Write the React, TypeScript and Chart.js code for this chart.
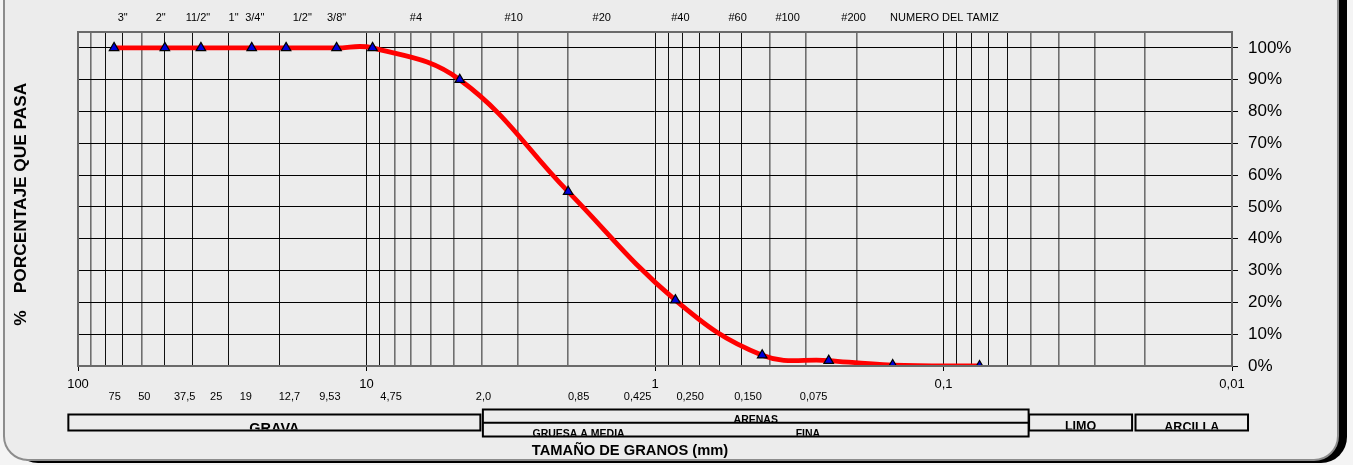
import React, { useEffect, useRef } from "react";
import { Chart, registerables } from "chart.js";

Chart.register(...registerables);

// ---- Data ----
const sieveSizesMm = [75, 50, 37.5, 25, 19, 12.7, 9.53, 4.75, 2.0, 0.85, 0.425, 0.25, 0.15, 0.075];
const percentPassing = [100, 100, 100, 100, 100, 100, 100, 90, 54.8, 20.7, 3.4, 1.7, 0.3, 0.0];

const majorTickLabels: Record<string, string> = { "100": "100", "10": "10", "1": "1", "0.1": "0,1", "0.01": "0,01" };
const yTickValues = [0, 10, 20, 30, 40, 50, 60, 70, 80, 90, 100];
// grid lines that render lighter/wider in the reference
const lightGridValues = [90, 60, 8, 7, 6, 5, 4, 3, 2, 0.4, 0.3, 0.2, 0.05, 0.04, 0.03, 0.02];

// sieve names drawn above the plot (anchor on the x axis, in mm)
const sieveNames = ['3"', '2"', '11/2"', '1"', '3/4"', '1/2"', '3/8"', "#4", "#10", "#20", "#40", "#60", "#100", "#200", "NUMERO DEL TAMIZ"];
const sieveNameAnchors = [70, 51.7, 38.4, 28.9, 24.4, 16.7, 12.7, 6.74, 3.09, 1.53, 0.817, 0.517, 0.347, 0.205, 0.0993];

// sieve openings drawn under the axis
const openingLabels = ["75", "50", "37,5", "25", "19", "12,7", "9,53", "4,75", "2,0", "0,85", "0,425", "0,250", "0,150", "0,075"];
const openingAnchors = [74.6, 58.9, 42.7, 33.2, 26.2, 18.5, 13.4, 8.22, 3.93, 1.84, 1.149, 0.755, 0.476, 0.282];

// soil classification bands (from, to in mm)
const bandNames = ["GRAVA", "ARENAS", "LIMO", "ARCILLA"];
const bandFrom = [108, 3.95, 0.0505, 0.0216];
const bandTo = [4.03, 0.0507, 0.0222, 0.0088];
const sandSubNames = ["GRUESA A MEDIA", "FINA"];
const sandSubAnchors = [1.84, 0.295];

const FONT = '"Liberation Sans", Arial, Helvetica, sans-serif';
const W = 1353;
const H = 465;

function gridValues(): number[] {
  const out: number[] = [];
  for (let e = 1; e >= -2; e--) {
    for (let m = 9; m >= 1; m--) {
      out.push(Number((m * Math.pow(10, e)).toPrecision(6)));
    }
  }
  out.unshift(100);
  return out.filter((v) => v >= 0.01 && v <= 100);
}

function isMajor(v: number): boolean {
  return majorTickLabels[String(v)] !== undefined;
}
function isLight(v: number): boolean {
  return lightGridValues.some((g) => Math.abs(g - v) < 1e-9);
}

function roundRectPath(ctx: CanvasRenderingContext2D, x: number, y: number, w: number, h: number, r: number) {
  ctx.beginPath();
  ctx.moveTo(x + r, y);
  ctx.lineTo(x + w - r, y);
  ctx.arcTo(x + w, y, x + w, y + r, r);
  ctx.lineTo(x + w, y + h - r);
  ctx.arcTo(x + w, y + h, x + w - r, y + h, r);
  ctx.lineTo(x + r, y + h);
  ctx.arcTo(x, y + h, x, y + h - r, r);
  ctx.lineTo(x, y + r);
  ctx.arcTo(x, y, x + r, y, r);
  ctx.closePath();
}

const framePlugin = {
  id: "frame",
  beforeDraw(chart: any) {
    const ctx = chart.ctx as CanvasRenderingContext2D;
    ctx.save();
    ctx.fillStyle = "#f4f4f4";
    ctx.fillRect(0, 0, W, H);
    // shadow
    roundRectPath(ctx, 12, -40, 1335, 503, 26);
    ctx.fillStyle = "#000";
    ctx.fill();
    // panel
    roundRectPath(ctx, 4, -40, 1334, 500, 24);
    ctx.fillStyle = "#ececec";
    ctx.fill();
    ctx.lineWidth = 2;
    ctx.strokeStyle = "#8c8c8c";
    ctx.stroke();
    ctx.restore();
  },
};

const annotPlugin = {
  id: "annot",
  afterDraw(chart: any) {
    const ctx = chart.ctx as CanvasRenderingContext2D;
    const xs = chart.scales.x;
    const ca = chart.chartArea;
    ctx.save();

    // plot frame (top/left/right)
    ctx.strokeStyle = "#6a6a6a";
    ctx.lineWidth = 2;
    ctx.strokeRect(ca.left, ca.top, ca.right - ca.left, ca.bottom - ca.top);

    ctx.fillStyle = "#000";
    ctx.textAlign = "center";
    ctx.textBaseline = "middle";

    // sieve names
    ctx.font = `11px ${FONT}`;
    sieveNames.forEach((n, i) => {
      ctx.fillText(n, xs.getPixelForValue(sieveNameAnchors[i]), 18);
    });

    // opening labels
    openingLabels.forEach((n, i) => {
      ctx.fillText(n, xs.getPixelForValue(openingAnchors[i]), 397);
    });

    // bands
    ctx.strokeStyle = "#000";
    ctx.lineWidth = 2;
    const bandFonts = [14.5, 10.5, 12.5, 12.5];
    const bandBaselines = [432.5, 422.8, 429.5, 431];
    bandNames.forEach((n, i) => {
      const x0 = xs.getPixelForValue(bandFrom[i]);
      const x1 = xs.getPixelForValue(bandTo[i]);
      const isSand = i === 1;
      const top = isSand ? 409.5 : 414.5;
      const bottom = isSand ? 436.5 : 430.5;
      ctx.strokeRect(x0, top, x1 - x0, bottom - top);
      if (isSand) {
        ctx.beginPath();
        ctx.moveTo(x0, 422.7);
        ctx.lineTo(x1, 422.7);
        ctx.stroke();
      }
      const clipBottom = isSand ? 422 : bottom - 1;
      ctx.save();
      ctx.beginPath();
      ctx.rect(x0 + 1, top + 1, x1 - x0 - 2, clipBottom - top - 1);
      ctx.clip();
      ctx.font = `bold ${bandFonts[i]}px ${FONT}`;
      ctx.textBaseline = "alphabetic";
      ctx.fillText(n, (x0 + x1) / 2, bandBaselines[i]);
      ctx.restore();
    });
    // sand sub-bands
    ctx.save();
    const sx0 = xs.getPixelForValue(bandFrom[1]);
    const sx1 = xs.getPixelForValue(bandTo[1]);
    ctx.beginPath();
    ctx.rect(sx0 + 1, 423.7, sx1 - sx0 - 2, 12);
    ctx.clip();
    ctx.font = `bold 10.5px ${FONT}`;
    ctx.textBaseline = "alphabetic";
    sandSubNames.forEach((n, i) => {
      ctx.fillText(n, xs.getPixelForValue(sandSubAnchors[i]), 436.5);
    });
    ctx.restore();

    // x title
    ctx.font = `bold 14.7px ${FONT}`;
    ctx.textBaseline = "middle";
    ctx.fillText("TAMAÑO DE GRANOS (mm)", 630, 451);

    // y title
    ctx.save();
    ctx.translate(21, 205);
    ctx.rotate(-Math.PI / 2);
    ctx.font = `bold 17.3px ${FONT}`;
    ctx.textAlign = "center";
    ctx.fillText("%", -113, 0);
    ctx.fillText("PORCENTAJE QUE PASA", 17, 0);
    ctx.restore();

    ctx.restore();
  },
};

export default function App() {
  const ref = useRef<HTMLCanvasElement | null>(null);

  useEffect(() => {
    if (!ref.current) return;
    const grid = gridValues();
    const chart = new Chart(ref.current, {
      type: "line",
      data: {
        datasets: [
          {
            data: sieveSizesMm.map((s, i) => ({ x: s, y: percentPassing[i] })),
            borderColor: "#ff0000",
            borderWidth: 4.8,
            tension: 0.4,
            cubicInterpolationMode: "default",
            pointStyle: "triangle",
            pointRadius: 5.5,
            pointBackgroundColor: "#0000dd",
            pointBorderColor: "#000000",
            pointBorderWidth: 1.2,
          },
        ],
      },
      options: {
        responsive: false,
        animation: false,
        devicePixelRatio: 1,
        layout: { padding: { left: 78, top: 32, right: 0, bottom: 0 } },
        plugins: { legend: { display: false }, tooltip: { enabled: false } },
        scales: {
          x: {
            type: "logarithmic",
            reverse: true,
            min: 0.01,
            max: 100,
            position: "bottom",
            afterBuildTicks: (s: any) => {
              s.ticks = grid.map((v) => ({ value: v, major: isMajor(v) }));
            },
            afterFit: (s: any) => {
              s.height = H - 366;
            },
            ticks: {
              autoSkip: false,
              maxRotation: 0,
              minRotation: 0,
              padding: 6,
              color: "#000",
              font: { family: FONT, size: 13 },
              callback: (v: any) => majorTickLabels[String(v)] ?? "",
            },
            grid: {
              color: (c: any) => (c.tick && isLight(c.tick.value) ? "#6f6f6f" : "#111"),
              lineWidth: (c: any) => (c.tick && isLight(c.tick.value) ? 1.6 : 1),
              tickLength: 5,
              tickColor: (c: any) => (c.tick && isMajor(c.tick.value) ? "#000" : "rgba(0,0,0,0)"),
            },
            border: { display: true, color: "#555", width: 2 },
          },
          y: {
            type: "linear",
            position: "right",
            min: 0,
            max: 105,
            afterBuildTicks: (s: any) => {
              s.ticks = yTickValues.map((v) => ({ value: v }));
            },
            afterFit: (s: any) => {
              s.width = W - 1232;
            },
            ticks: {
              padding: 10,
              color: "#000",
              font: { family: FONT, size: 17 },
              callback: (v: any) => `${v}%`,
            },
            grid: { color: "#000", lineWidth: 1, tickLength: 6, tickColor: "#000" },
            border: { display: true, color: "#555", width: 2 },
          },
        },
      },
      plugins: [framePlugin, annotPlugin],
    } as any);
    return () => chart.destroy();
  }, []);

  return (
    <div style={{ position: "absolute", left: 0, top: 0, width: W, height: H }}>
      <canvas ref={ref} width={W} height={H} style={{ display: "block", width: W, height: H }} />
    </div>
  );
}
